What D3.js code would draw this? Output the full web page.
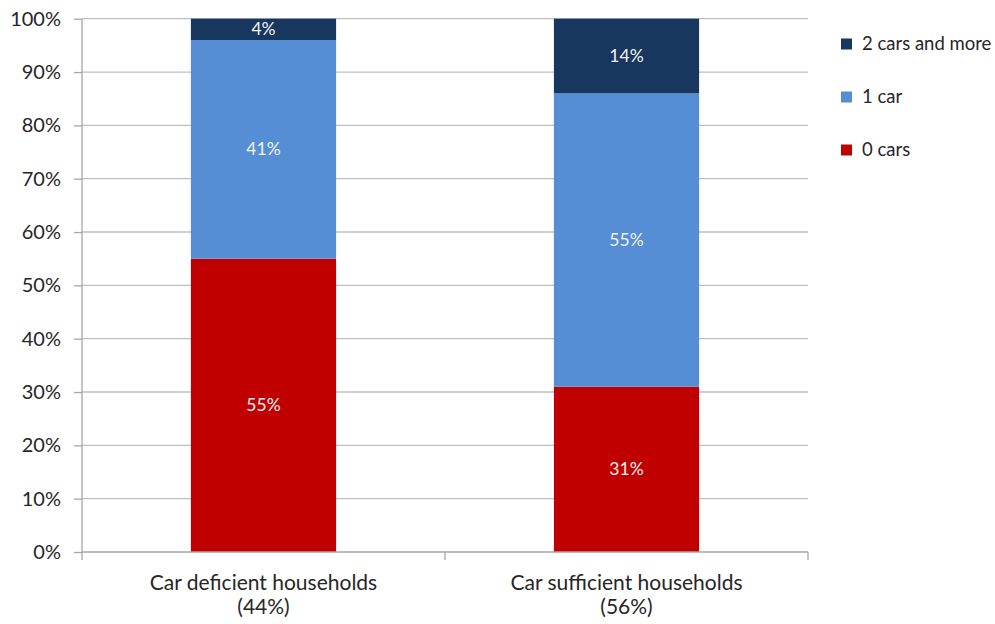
<!DOCTYPE html>
<html>
<head>
<meta charset="utf-8">
<script src="https://cdn.jsdelivr.net/npm/d3@7"></script>
<style>
  html, body { margin: 0; padding: 0; background: #fff; }
  svg text { font-family: Lato, "Open Sans", sans-serif; }
</style>
</head>
<body>
<svg id="chart" width="995" height="624"></svg>
<script>
// Household groups (x axis), with their share of all households
const categories = ["Car deficient households\n(44%)", "Car sufficient households\n(56%)"];
// Car ownership series, in stacking order from the bottom
const seriesNames = ["0 cars", "1 car", "2 cars and more"];
const zeroCars = [55, 31];
const oneCar = [41, 55];
const twoPlusCars = [4, 14];
const yTicks = [0, 10, 20, 30, 40, 50, 60, 70, 80, 90, 100];
const colors = ["#C00000", "#558ED5", "#17375E"];

const rows = categories.map((c, i) => ({
  cat: c,
  "0 cars": zeroCars[i],
  "1 car": oneCar[i],
  "2 cars and more": twoPlusCars[i]
}));

const svg = d3.select("#chart");
const plotLeft = 82, plotRight = 808, plotTop = 18.7, plotBottom = 552;

const x = d3.scaleBand().domain(categories).range([plotLeft, plotRight])
  .paddingInner(0.6).paddingOuter(0.3);
const y = d3.scaleLinear().domain([0, 100]).range([plotBottom, plotTop]);

// Horizontal gridlines
svg.append("g").selectAll("line").data(yTicks.filter(t => t > 0)).join("line")
  .attr("x1", plotLeft).attr("x2", plotRight)
  .attr("y1", d => y(d)).attr("y2", d => y(d))
  .attr("stroke", "#bfbfbf").attr("stroke-width", 1.3);

// Y axis
const yAxis = d3.axisLeft(y).tickValues(yTicks).tickFormat(d => d + "%").tickSize(8).tickPadding(13);
const gy = svg.append("g").attr("transform", `translate(${plotLeft},0)`).call(yAxis);
gy.select(".domain").attr("stroke", "#a6a6a6").attr("stroke-width", 1.3).attr("d", `M0,${plotBottom}V${plotTop}`);
gy.selectAll(".tick line").attr("stroke", "#a6a6a6").attr("stroke-width", 1.3);
gy.selectAll(".tick text").attr("fill", "#262626").attr("font-size", 20)
  .style("font-family", "Lato, 'Open Sans', sans-serif");

// Stacked bars
const stack = d3.stack().keys(seriesNames)(rows);
const layers = svg.append("g").selectAll("g").data(stack).join("g")
  .attr("fill", (d, i) => colors[i]);
layers.selectAll("rect").data(d => d).join("rect")
  .attr("x", d => x(d.data.cat))
  .attr("width", x.bandwidth())
  .attr("y", d => y(d[1]))
  .attr("height", d => y(d[0]) - y(d[1]));

// Value labels centred in each segment
layers.selectAll("text").data(d => d).join("text")
  .attr("x", d => x(d.data.cat) + x.bandwidth() / 2)
  .attr("y", d => (y(d[0]) + y(d[1])) / 2)
  .attr("dy", "0.35em")
  .attr("text-anchor", "middle")
  .attr("fill", "#f2f2f2")
  .attr("font-size", 17.5)
  .text(d => (d[1] - d[0]) + "%");

// X axis line with category dividers
const gx = svg.append("g");
gx.append("line").attr("x1", plotLeft).attr("x2", plotRight).attr("y1", plotBottom).attr("y2", plotBottom)
  .attr("stroke", "#a6a6a6").attr("stroke-width", 1.3);
const dividers = [plotLeft, ...categories.map(c => x(c) + x.bandwidth() + x.step() * x.paddingOuter())];
gx.selectAll("line.div").data(dividers).join("line").attr("class", "div")
  .attr("x1", d => d).attr("x2", d => d)
  .attr("y1", plotBottom).attr("y2", plotBottom + 8)
  .attr("stroke", "#a6a6a6").attr("stroke-width", 1.3);

// Category labels (two lines)
const catLabels = gx.selectAll("text").data(categories).join("text")
  .attr("x", d => x(d) + x.bandwidth() / 2)
  .attr("y", 590)
  .attr("text-anchor", "middle")
  .attr("fill", "#262626")
  .attr("font-size", 21);
catLabels.selectAll("tspan").data(d => d.split("\n")).join("tspan")
  .attr("x", function () { return d3.select(this.parentNode).attr("x"); })
  .attr("dy", (d, i) => i === 0 ? 0 : 24)
  .text(d => d);

// Legend, top entry first
const legendOrder = seriesNames.map((n, i) => ({ name: n, color: colors[i] })).reverse();
const legend = svg.append("g").selectAll("g").data(legendOrder).join("g")
  .attr("transform", (d, i) => `translate(841,${44 + i * 53})`);
legend.append("rect").attr("x", 0).attr("y", -5.5).attr("width", 11).attr("height", 11)
  .attr("fill", d => d.color);
legend.append("text").attr("x", 21).attr("dy", "0.35em")
  .attr("fill", "#262626").attr("font-size", 18.5)
  .text(d => d.name);
</script>
</body>
</html>
